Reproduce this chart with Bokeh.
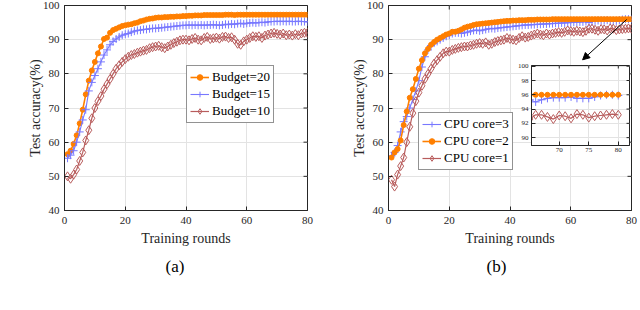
import math
from bokeh.plotting import figure
from bokeh.layouts import row
from bokeh.models import (Range1d, Legend, LegendItem, Arrow,
                          NormalHead, Title, FixedTicker)
from bokeh.embed import file_html
from bokeh.resources import INLINE

rounds = list(range(1, 81))

budget20 = [56.5, 57.5, 59.5, 62.0, 65.5, 69.5, 74.0, 78.0, 81.0, 83.5,
            86.0, 88.0, 90.2, 90.6, 92.0, 92.8, 93.2, 93.6, 94.0, 94.2,
            94.4, 94.5, 94.8, 95.0, 95.4, 95.6, 95.9, 96.1, 96.2, 96.4,
            96.5, 96.5, 96.6, 96.6, 96.7, 96.7, 96.8, 96.8, 96.9, 96.9,
            97.0, 97.0, 97.1, 97.1, 97.1, 97.2, 97.2, 97.2, 97.2, 97.2,
            97.2, 97.2, 97.3, 97.3, 97.3, 97.2, 97.3, 97.3, 97.3, 97.3,
            97.3, 97.3, 97.3, 97.3, 97.3, 97.3, 97.3, 97.3, 97.3, 97.3,
            97.3, 97.3, 97.3, 97.3, 97.3, 97.3, 97.3, 97.3, 97.3, 97.3]
budget15 = [55.3, 56.2, 57.5, 60.0, 63.0, 66.5, 69.5, 75.0, 77.5, 79.5,
            81.5, 83.5, 85.5, 87.0, 88.5, 89.5, 90.2, 90.8, 91.3, 91.6,
            91.8, 92.2, 92.5, 92.7, 92.8, 93.0, 93.0, 93.2, 93.3, 93.3,
            93.4, 93.5, 93.6, 93.7, 93.8, 93.9, 94.0, 94.1, 94.2, 94.2,
            94.3, 94.2, 94.3, 94.2, 94.3, 94.2, 94.3, 94.3, 94.4, 94.3,
            94.2, 94.3, 94.5, 94.4, 94.6, 94.5, 94.7, 94.8, 94.6, 94.8,
            94.9, 95.0, 94.9, 95.0, 95.1, 95.0, 95.2, 95.3, 95.3, 95.4,
            95.3, 95.4, 95.3, 95.4, 95.3, 95.3, 95.4, 95.3, 95.3, 95.2]
budget10 = [50.0, 49.3, 50.5, 52.0, 54.5, 57.0, 60.5, 63.5, 67.0, 70.0,
            72.0, 73.5, 75.5, 77.0, 78.5, 80.0, 81.5, 82.5, 83.5, 84.3,
            85.0, 85.5, 85.8, 86.2, 86.5, 86.8, 87.0, 87.5, 87.8, 88.0,
            88.2, 87.8, 87.5, 88.0, 88.5, 89.0, 89.4, 89.8, 90.0, 90.0,
            89.8, 90.2, 90.5, 90.0, 89.8, 90.5, 90.8, 90.2, 90.4, 90.6,
            90.3, 90.8, 90.9, 90.5, 90.7, 90.0, 88.8, 88.5, 89.5, 90.0,
            90.5, 91.0, 90.8, 91.0, 90.5, 91.2, 91.5, 91.8, 92.0, 91.7,
            91.5, 91.8, 91.3, 91.5, 91.2, 91.6, 91.3, 91.8, 92.0, 92.0]

core3 = [56.0, 57.0, 59.0, 63.0, 66.0, 67.5, 70.0, 72.5, 75.0, 78.0,
         82.0, 85.0, 87.0, 88.3, 89.0, 89.5, 90.0, 90.5, 91.0, 91.3,
         91.8, 92.0, 92.0, 91.8, 92.0, 92.2, 92.5, 92.7, 92.8, 92.6,
         92.8, 93.0, 93.2, 93.3, 93.2, 93.4, 93.5, 93.6, 93.7, 93.8,
         93.9, 94.0, 94.1, 94.2, 94.3, 94.3, 94.4, 94.4, 94.5, 94.5,
         94.6, 94.6, 94.7, 94.7, 94.8, 94.8, 94.9, 94.9, 95.0, 95.0,
         95.1, 95.1, 95.2, 95.2, 95.3, 95.0, 95.3, 95.5, 95.6, 95.6,
         95.6, 95.7, 95.5, 95.5, 95.5, 95.7, 95.9, 96.0, 96.0, 95.9]
core2 = [55.5, 57.0, 58.0, 60.5, 65.0, 69.0, 73.0, 75.5, 78.5, 81.5,
         84.0, 86.0, 87.3, 88.5, 89.3, 90.0, 90.5, 91.0, 91.5, 91.8,
         92.3, 92.3, 92.6, 93.0, 93.5, 93.8, 94.0, 94.3, 94.5, 94.6,
         94.7, 94.8, 94.9, 95.0, 95.1, 95.2, 95.3, 95.4, 95.5, 95.5,
         95.6, 95.6, 95.7, 95.7, 95.7, 95.8, 95.8, 95.8, 95.9, 95.9,
         95.9, 95.9, 95.9, 96.0, 96.0, 96.0, 96.0, 96.0, 96.0, 96.0,
         96.0, 96.0, 96.0, 96.0, 96.0, 96.0, 96.0, 96.0, 96.0, 96.0,
         96.0, 96.0, 96.0, 96.0, 96.0, 96.0, 96.0, 96.0, 96.0, 96.0]
core1 = [49.0, 47.0, 50.5, 53.0, 55.5, 60.0, 64.5, 68.5, 72.0, 74.5,
         76.5, 78.5, 80.0, 81.5, 83.0, 84.0, 85.0, 86.0, 86.5, 86.5,
         87.0, 87.3, 87.6, 87.8, 88.0, 88.0, 88.3, 88.5, 88.8, 89.0,
         88.8, 89.2, 88.5, 88.8, 89.3, 89.6, 89.8, 90.0, 90.5, 90.2,
         90.0, 89.8, 90.5, 91.0, 90.6, 90.8, 91.2, 91.5, 91.8, 91.5,
         91.3, 91.8, 91.5, 91.8, 92.0, 92.2, 92.0, 92.3, 92.7, 92.5,
         92.3, 92.6, 92.4, 92.2, 92.6, 93.2, 93.2, 92.9, 92.6, 93.1,
         93.0, 92.7, 93.3, 93.2, 92.8, 93.0, 93.1, 93.2, 93.3, 93.2]

x_range_main = (0, 80)
y_range_main = (40, 100)
x_ticks = [0, 20, 40, 60, 80]
y_ticks = [40, 50, 60, 70, 80, 90, 100]
inset_x_range = (65.3, 81.9)
inset_y_range = (88.9, 100.1)
inset_x_ticks = [70, 75, 80]
inset_y_ticks = [90, 92, 94, 96, 98, 100]

labels_a = ["Budget=20", "Budget=15", "Budget=10"]
labels_b = ["CPU core=3", "CPU core=2", "CPU core=1"]

# arrow in panel (b), data coordinates
arrow_start = (78.4, 95.9)
arrow_end = (63.9, 84.1)

FONT = "Liberation Serif"
ORANGE = "#FF7F00"
BLUE = "#7878FF"
BROWN = "#B85C5C"
AXC = "#262626"
GRIDC = "#E3E3E3"

STYLE = {
    "orange": dict(color=ORANGE, marker="circle", size=5, lw=1.6, fill=ORANGE),
    "blue": dict(color=BLUE, marker="cross", size=8, lw=1.1, fill=None),
    "brown": dict(color=BROWN, marker="diamond", size=9, lw=1.2, fill=None),
}


def style_axis(ax, ticks, fs, standoff):
    ax.ticker = FixedTicker(ticks=ticks)
    ax.major_tick_in = 4
    ax.major_tick_out = 0
    ax.minor_tick_line_color = None
    ax.axis_line_color = AXC
    ax.major_tick_line_color = AXC
    ax.major_label_text_font = FONT
    ax.major_label_text_color = AXC
    ax.major_label_standoff = standoff
    ax.major_label_text_font_size = fs


def mirror_ticks(p, xt, yt, xr, yr, size):
    # inward tick marks on the top and right edges (half is clipped by the frame)
    p.scatter(xt, [yr[1]] * len(xt), marker="dash", angle=math.pi / 2,
              size=size, line_color=AXC, line_width=1)
    p.scatter([xr[1]] * len(yt), yt, marker="dash", size=size,
              line_color=AXC, line_width=1)


def draw_series(p, x, y, key):
    s = STYLE[key]
    ln = p.line(x, y, line_color=s["color"], line_width=s["lw"])
    sc = p.scatter(x, y, marker=s["marker"], size=s["size"],
                   line_color=s["color"], fill_color=s["fill"],
                   line_width=1.0)
    return [ln, sc]


def make_panel(series, labels, loc, sub, mleft, mright, fw, sub_offset):
    p = figure(frame_width=fw, frame_height=205,
               x_range=Range1d(*x_range_main), y_range=Range1d(*y_range_main),
               output_backend="svg", toolbar_location=None,
               min_border_left=mleft, min_border_right=mright,
               min_border_top=5, min_border_bottom=10)
    p.outline_line_color = AXC
    p.outline_line_width = 1
    p.background_fill_color = "white"
    p.border_fill_color = "white"
    style_axis(p.xaxis[0], x_ticks, "11px", 6)
    style_axis(p.yaxis[0], y_ticks, "11px", 5)
    for ax, lab in ((p.xaxis[0], "Training rounds"), (p.yaxis[0], "Test accuracy(%)")):
        ax.axis_label = lab
        ax.axis_label_text_font = FONT
        ax.axis_label_text_font_style = "normal"
        ax.axis_label_text_font_size = "14px"
        ax.axis_label_text_color = AXC
    p.xaxis[0].axis_label_standoff = 4
    p.yaxis[0].axis_label_standoff = -3
    p.xgrid.ticker = FixedTicker(ticks=x_ticks)
    p.ygrid.ticker = FixedTicker(ticks=y_ticks)
    p.grid.grid_line_color = GRIDC
    p.grid.grid_line_width = 1
    mirror_ticks(p, x_ticks, y_ticks, x_range_main, y_range_main, 8)

    items = []
    for (y, key), lab in zip(series, labels):
        rs = draw_series(p, rounds, y, key)
        items.append(LegendItem(label=lab, renderers=rs))
    leg = Legend(items=items, location=loc, margin=0, padding=3,
                 spacing=1, label_height=14, glyph_height=14, glyph_width=19,
                 label_standoff=3, label_text_font=FONT,
                 label_text_font_size="13px", label_text_color="black",
                 border_line_color=AXC, border_line_width=1,
                 background_fill_color="white", background_fill_alpha=1.0)
    p.add_layout(leg)
    p.add_layout(Title(text=sub, align="left", offset=sub_offset, standoff=13,
                       text_font=FONT, text_font_size="17px",
                       text_font_style="normal", text_color="black"), "below")
    return p


p_a = make_panel([(budget20, "orange"), (budget15, "blue"), (budget10, "brown")],
                 labels_a, (122, 87), "(a)", 64, 13, 243, 101)
p_b = make_panel([(core3, "blue"), (core2, "orange"), (core1, "brown")],
                 labels_b, (30, 40), "(b)", 68, 9, 243, 98)

p_b.add_layout(Arrow(end=NormalHead(size=7, fill_color="black", line_color="black"),
                     x_start=arrow_start[0], y_start=arrow_start[1],
                     x_end=arrow_end[0], y_end=arrow_end[1],
                     line_color="black", line_width=1))

inset = figure(frame_width=98, frame_height=80,
               x_range=Range1d(*inset_x_range), y_range=Range1d(*inset_y_range),
               output_backend="svg", toolbar_location=None,
               min_border_left=16, min_border_right=2,
               min_border_top=1, min_border_bottom=12,
               margin=(60, 0, 0, -126))
inset.border_fill_alpha = 0
inset.background_fill_color = "white"
inset.outline_line_color = AXC
style_axis(inset.xaxis[0], inset_x_ticks, "7px", 2)
style_axis(inset.yaxis[0], inset_y_ticks, "7px", 3)
inset.xgrid.ticker = FixedTicker(ticks=inset_x_ticks)
inset.ygrid.ticker = FixedTicker(ticks=inset_y_ticks)
inset.grid.grid_line_color = GRIDC
mirror_ticks(inset, inset_x_ticks, inset_y_ticks, inset_x_range, inset_y_range, 6)
for y, key in ((core3, "blue"), (core2, "orange"), (core1, "brown")):
    draw_series(inset, rounds, y, key)

layout = row(p_a, p_b, inset)

open("out.html", "w").write(file_html(layout, INLINE))
